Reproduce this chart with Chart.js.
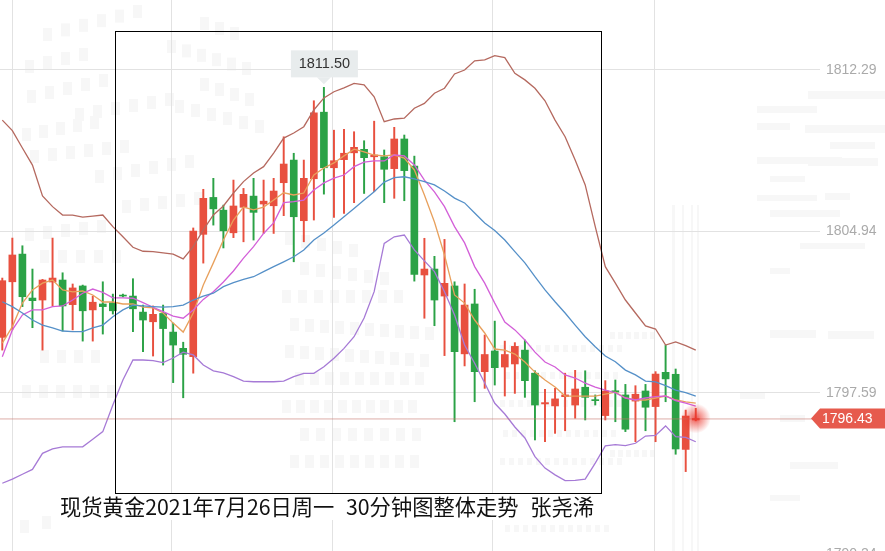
<!DOCTYPE html>
<html lang="zh">
<head>
<meta charset="utf-8">
<title>现货黄金 30分钟图</title>
<script src="https://cdn.jsdelivr.net/npm/chart.js@4/dist/chart.umd.min.js"></script>
<style>
    html, body { margin: 0; width: 885px; height: 551px; overflow: hidden; background: #fff; }
    #chart { position: absolute; left: 0; top: 0; }
    #box { position: absolute; left: 115px; top: 31px; width: 485px; height: 461px; border: 1px solid #000; }
    #caption {
        position: absolute; left: 60px; top: 493px; height: 27px; padding-right: 2px;
        background: #fff; color: #111; white-space: pre; word-spacing: 1px;
        font: 21.3px/26px "Noto Sans CJK SC", sans-serif;
    }
</style>
</head>
<body>
<canvas id="chart" width="885" height="600"></canvas>
<div id="caption">现货黄金2021年7月26日周一  30分钟图整体走势  张尧浠</div>
<div id="box"></div>
<script>
// ─── Candles ──────────────────────────────────────────────────────────────────
const opens = [
    1800.12, 1802.65, 1803.91, 1801.91, 1801.82, 1802.64, 1802.73, 1801.61, 1802.46, 1801.37,
    1801.64, 1801.70, 1802.03, 1802.00, 1801.27, 1800.83, 1801.21, 1800.36, 1799.62, 1799.24,
    1804.81, 1806.49, 1805.91, 1804.88, 1806.04, 1806.55, 1806.19, 1806.11, 1807.16, 1808.19,
    1805.43, 1807.34, 1810.37, 1807.84, 1808.21, 1808.52, 1808.68, 1808.34, 1808.34, 1807.80,
    1809.15, 1807.92, 1802.96, 1803.23, 1802.00, 1802.46, 1799.37, 1801.64, 1798.56, 1799.50,
    1798.77, 1798.91, 1799.54, 1798.49, 1797.09, 1797.00, 1797.42, 1797.04, 1797.85, 1797.27,
    1796.56, 1797.69, 1797.50, 1797.22, 1797.68, 1796.97, 1798.53, 1798.44, 1795.02, 1796.36,
];
const highs = [
    1802.82, 1804.64, 1804.29, 1803.23, 1802.76, 1804.64, 1803.06, 1802.55, 1802.50, 1802.00,
    1802.65, 1802.09, 1802.09, 1802.79, 1801.59, 1801.55, 1801.59, 1800.77, 1799.90, 1805.10,
    1806.86, 1807.36, 1806.14, 1807.28, 1806.90, 1807.36, 1807.28, 1807.36, 1809.25, 1808.50,
    1808.19, 1810.89, 1811.50, 1809.55, 1809.59, 1809.48, 1809.07, 1809.96, 1808.65, 1809.68,
    1809.33, 1808.37, 1804.63, 1803.81, 1804.58, 1802.65, 1802.55, 1802.31, 1800.23, 1800.86,
    1799.95, 1799.88, 1800.00, 1798.60, 1797.76, 1797.80, 1798.49, 1798.62, 1798.60, 1797.50,
    1798.15, 1798.18, 1797.98, 1797.92, 1797.98, 1798.56, 1799.77, 1798.68, 1796.81, 1796.89,
];
const lows = [
    1799.54, 1800.46, 1801.52, 1800.56, 1799.54, 1801.55, 1800.41, 1800.46, 1799.95, 1799.95,
    1800.27, 1801.18, 1801.96, 1800.38, 1799.47, 1799.27, 1798.86, 1798.06, 1797.37, 1798.49,
    1803.50, 1805.23, 1804.19, 1804.66, 1804.47, 1804.55, 1804.85, 1804.85, 1805.66, 1803.56,
    1804.47, 1805.46, 1806.64, 1805.58, 1805.76, 1806.25, 1806.67, 1806.75, 1806.25, 1806.45,
    1806.34, 1802.68, 1800.99, 1800.65, 1799.29, 1796.28, 1798.82, 1797.19, 1797.80, 1797.95,
    1797.45, 1797.57, 1797.39, 1795.45, 1795.37, 1795.75, 1795.87, 1796.44, 1796.36, 1797.04,
    1796.36, 1796.28, 1795.83, 1795.37, 1795.87, 1795.37, 1797.19, 1794.80, 1794.01, 1796.32,
];
const closes = [
    1802.70, 1803.87, 1801.97, 1801.79, 1802.73, 1802.82, 1801.55, 1802.37, 1801.33, 1801.72,
    1801.52, 1801.33, 1802.00, 1801.42, 1800.91, 1801.17, 1800.52, 1799.77, 1799.35, 1804.96,
    1806.45, 1805.97, 1804.97, 1806.10, 1806.63, 1805.81, 1806.32, 1806.78, 1808.01, 1805.61,
    1807.36, 1810.34, 1807.84, 1808.16, 1808.50, 1808.77, 1808.30, 1808.42, 1807.77, 1809.15,
    1807.71, 1802.99, 1803.23, 1801.82, 1802.58, 1799.47, 1801.59, 1798.56, 1799.34, 1798.74,
    1799.34, 1799.71, 1798.15, 1797.04, 1797.15, 1797.32, 1797.50, 1797.77, 1797.39, 1797.24,
    1797.68, 1797.63, 1795.94, 1797.53, 1796.94, 1798.45, 1798.23, 1795.04, 1796.54, 1796.43,
];

// ─── Moving averages and Bollinger bands ──────────────────────────────────────
const ma5 = [
    1799.86, 1800.61, 1801.68, 1802.28, 1802.59, 1802.73, 1802.28, 1802.19, 1802.23, 1802.05,
    1801.73, 1801.73, 1801.64, 1801.64, 1801.50, 1801.46, 1801.23, 1800.77, 1800.36, 1801.23,
    1802.50, 1803.51, 1804.55, 1805.46, 1806.05, 1805.92, 1806.05, 1806.37, 1806.70, 1806.60,
    1806.69, 1807.51, 1807.83, 1808.06, 1808.38, 1808.69, 1808.56, 1808.42, 1808.38, 1808.42,
    1808.28, 1807.74, 1806.60, 1805.37, 1803.87, 1802.05, 1801.68, 1800.91, 1800.32, 1799.59,
    1799.54, 1799.36, 1799.00, 1798.54, 1798.18, 1797.86, 1797.45, 1797.45, 1797.45, 1797.45,
    1797.54, 1797.63, 1797.36, 1797.27, 1797.27, 1797.36, 1797.45, 1797.27, 1797.18, 1797.13,
];
const ma10 = [
    1799.24, 1800.46, 1801.14, 1801.37, 1801.37, 1801.52, 1801.55, 1801.82, 1802.13, 1802.32,
    1802.17, 1801.92, 1801.92, 1801.90, 1801.70, 1801.49, 1801.29, 1801.09, 1800.99, 1801.37,
    1801.85, 1802.20, 1802.64, 1803.14, 1803.73, 1804.25, 1804.85, 1805.33, 1806.25, 1806.30,
    1806.37, 1806.83, 1807.15, 1807.37, 1807.51, 1807.89, 1808.10, 1808.15, 1808.15, 1808.42,
    1808.38, 1807.97, 1807.28, 1806.74, 1806.07, 1805.16, 1804.42, 1803.34, 1802.59, 1801.68,
    1800.82, 1800.46, 1800.00, 1799.45, 1799.00, 1798.77, 1798.41, 1798.27, 1798.04, 1797.86,
    1797.72, 1797.60, 1797.36, 1797.27, 1797.36, 1797.42, 1797.45, 1797.24, 1797.13, 1796.99,
];
const ma30 = [
    1801.74, 1801.52, 1801.23, 1800.91, 1800.68, 1800.55, 1800.41, 1800.38, 1800.38, 1800.55,
    1800.68, 1801.06, 1801.37, 1801.59, 1801.55, 1801.52, 1801.50, 1801.52, 1801.59, 1801.82,
    1802.00, 1802.13, 1802.43, 1802.61, 1802.76, 1802.88, 1803.11, 1803.34, 1803.56, 1803.79,
    1804.10, 1804.55, 1804.87, 1805.23, 1805.61, 1805.99, 1806.37, 1806.75, 1807.19, 1807.39,
    1807.43, 1807.33, 1807.21, 1807.06, 1806.78, 1806.46, 1806.24, 1805.78, 1805.33, 1804.98,
    1804.55, 1804.02, 1803.51, 1802.88, 1802.28, 1801.74, 1801.23, 1800.68, 1800.15, 1799.69,
    1799.27, 1799.01, 1798.63, 1798.41, 1798.13, 1798.09, 1797.92, 1797.72, 1797.60, 1797.45,
];
const bollUpper = [
    1810.01, 1809.53, 1808.74, 1807.96, 1806.56, 1806.07, 1805.69, 1805.68, 1805.59, 1805.64,
    1805.69, 1805.16, 1804.70, 1804.22, 1804.04, 1804.02, 1803.97, 1803.91, 1803.69, 1804.25,
    1805.01, 1805.69, 1806.10, 1806.69, 1807.21, 1807.60, 1807.89, 1808.51, 1809.19, 1809.42,
    1809.71, 1810.47, 1811.02, 1811.30, 1811.48, 1811.68, 1811.61, 1811.07, 1809.94, 1810.06,
    1810.10, 1810.55, 1810.77, 1811.23, 1811.46, 1812.11, 1812.29, 1812.71, 1812.75, 1812.94,
    1812.85, 1812.14, 1811.84, 1811.46, 1810.89, 1810.01, 1809.25, 1808.19, 1807.06, 1805.16,
    1803.34, 1802.59, 1801.82, 1801.23, 1800.64, 1800.50, 1799.77, 1799.91, 1799.74, 1799.54,
];
const bollLower = [
    1793.48, 1793.67, 1793.89, 1794.11, 1794.84, 1795.04, 1795.14, 1795.14, 1795.14, 1795.48,
    1795.83, 1797.04, 1798.18, 1799.09, 1799.09, 1799.06, 1798.97, 1799.18, 1799.45, 1799.32,
    1798.86, 1798.60, 1798.50, 1798.33, 1798.13, 1798.10, 1798.10, 1798.10, 1798.13, 1798.33,
    1798.48, 1798.48, 1798.78, 1799.17, 1799.62, 1800.15, 1801.00, 1802.20, 1804.40, 1804.70,
    1804.78, 1804.10, 1803.60, 1803.11, 1802.20, 1801.14, 1799.77, 1798.94, 1798.04, 1797.12,
    1796.63, 1796.04, 1795.54, 1794.69, 1794.17, 1793.86, 1793.60, 1793.61, 1793.67, 1794.40,
    1795.18, 1795.24, 1795.19, 1795.30, 1795.63, 1795.66, 1796.09, 1795.60, 1795.57, 1795.37,
];

// ─── Axis ticks and labels ────────────────────────────────────────────────────
const priceTicks = [1812.29, 1804.94, 1797.59, 1790.24];
const timeGridTicks = [0.97, 16.88, 32.9, 48.8, 64.85];
const lastPrice = 1796.43;
const peakIndex = 32;

const RED = '#e8503f';
const GREEN = '#2ba246';

// Faint watermark behind the chart: slanted tile rows [x, y, count, dx, dy]
const tileRows = [
    [43, 28, 6, 18, -4.6], [25, 60, 4, 18, -4], [27, 90, 5, 18, -4], [75, 108, 6, 18, -3],
    [167, 40, 6, 15, 4.4], [200, 17, 3, 15, 5], [200, 78, 4, 15, 5], [175, 100, 6, 16, 4],
    [22, 128, 5, 17, -3], [30, 150, 6, 18, -2], [95, 170, 6, 18, -3], [122, 200, 5, 18, -2],
    [25, 228, 5, 18, -2], [40, 250, 5, 18, 0], [40, 350, 4, 17, 0], [22, 385, 6, 17, 0],
    [20, 520, 2, 22, -4], [285, 232, 5, 16, 3], [300, 262, 6, 16, 2], [282, 290, 8, 16, 0],
    [290, 318, 10, 15, 1], [285, 345, 10, 15, 1], [295, 372, 9, 15, 0], [282, 400, 10, 14, 0],
    [300, 428, 8, 16, 0], [290, 455, 9, 15, 0],
];
// Smaller dots in the lower middle [x, y, count, dx, dy]
const dotRows = [
    [500, 345, 14, 9, 0], [505, 372, 13, 9, 0], [500, 400, 14, 9, 0], [503, 430, 13, 9, 0],
    [500, 458, 14, 9, 0], [505, 525, 12, 9, 0], [610, 332, 6, 8, 0], [610, 450, 6, 8, 0],
];
// Pale bars of the right hand watermark [x, y, width, height]
const wmBars = [
    [808, 91, 77, 8], [757, 106, 60, 7], [757, 123, 33, 7], [805, 125, 80, 8], [830, 142, 45, 7],
    [757, 157, 85, 7], [808, 158, 70, 8], [770, 176, 35, 6], [757, 195, 60, 6], [825, 193, 25, 7],
    [770, 210, 70, 7], [800, 243, 65, 6], [770, 268, 20, 6], [770, 330, 46, 8], [828, 331, 46, 8],
    [780, 415, 25, 7], [740, 392, 25, 7], [790, 462, 48, 7], [770, 495, 30, 6],
    [672, 205, 3, 346], [682, 205, 2, 346], [691, 205, 2, 346], [697, 205, 2, 346],
];

function xy(values) {
    return values.map((v, i) => ({ x: i, y: v }));
}

const candleColors = closes.map((c, i) => (c >= opens[i] ? RED : GREEN));

function lineSet(values, color) {
    return {
        type: 'line', data: xy(values), borderColor: color, borderWidth: 1.3,
        pointRadius: 0, tension: 0, order: 0,
    };
}

// ─── Watermark, last price tag, peak label ────────────────────────────────────
const overlay = {
    id: 'overlay',
    beforeDraw(chart) {
        const ctx = chart.ctx;
        ctx.save();
        ctx.fillStyle = '#fff';
        ctx.fillRect(0, 0, chart.width, chart.height);
        ctx.fillStyle = '#f7f7f7';
        for (const [x, y, count, dx, dy] of tileRows) {
            for (let i = 0; i < count; i++) ctx.fillRect(x + i * dx, y + i * dy, 9, 13);
        }
        for (const [x, y, count, dx, dy] of dotRows) {
            for (let i = 0; i < count; i++) ctx.fillRect(x + i * dx, y + i * dy, 5, 7);
        }
        for (const [x, y, w, h] of wmBars) ctx.fillRect(x, y, w, h);
        ctx.restore();
    },
    afterDraw(chart) {
        const ctx = chart.ctx;
        const xScale = chart.scales.x;
        const yScale = chart.scales.y;
        const yLast = yScale.getPixelForValue(lastPrice);
        const xLast = xScale.getPixelForValue(closes.length - 1);
        ctx.save();

        // last price line + tag
        ctx.strokeStyle = 'rgba(200,120,110,0.6)';
        ctx.lineWidth = 1;
        ctx.beginPath();
        ctx.moveTo(0, yLast + 0.5);
        ctx.lineTo(815, yLast + 0.5);
        ctx.stroke();
        ctx.fillStyle = '#e65a4d';
        ctx.beginPath();
        ctx.moveTo(811, yLast);
        ctx.lineTo(820, yLast - 10);
        ctx.lineTo(885, yLast - 10);
        ctx.lineTo(885, yLast + 10);
        ctx.lineTo(820, yLast + 10);
        ctx.closePath();
        ctx.fill();
        ctx.fillStyle = '#fff';
        ctx.font = '14px "Liberation Sans", Arial, sans-serif';
        ctx.textAlign = 'left';
        ctx.textBaseline = 'middle';
        ctx.fillText(lastPrice.toFixed(2), 822, yLast + 0.5);

        // pulse on the last candle
        const glow = ctx.createRadialGradient(xLast, yLast, 1, xLast, yLast, 15);
        glow.addColorStop(0, 'rgba(235,50,40,0.75)');
        glow.addColorStop(1, 'rgba(235,50,40,0)');
        ctx.fillStyle = glow;
        ctx.beginPath();
        ctx.arc(xLast, yLast, 15, 0, Math.PI * 2);
        ctx.fill();

        // peak label
        const px = xScale.getPixelForValue(peakIndex);
        const py = yScale.getPixelForValue(highs[peakIndex]);
        ctx.fillStyle = '#e8eced';
        ctx.fillRect(px - 33, py - 37, 67, 27);
        ctx.beginPath();
        ctx.moveTo(px - 7, py - 10);
        ctx.lineTo(px + 7, py - 10);
        ctx.lineTo(px, py - 3);
        ctx.closePath();
        ctx.fill();
        ctx.fillStyle = '#333';
        ctx.font = '14.5px "Liberation Sans", Arial, sans-serif';
        ctx.textAlign = 'center';
        ctx.fillText(highs[peakIndex].toFixed(2), px + 0.5, py - 23);
        ctx.restore();
    },
};

// ─── Chart ────────────────────────────────────────────────────────────────────
new Chart(document.getElementById('chart'), {
    type: 'bar',
    data: {
        datasets: [
            lineSet(bollUpper, '#b5695f'),
            lineSet(bollLower, '#a67ad6'),
            lineSet(ma30, '#5590c8'),
            lineSet(ma10, '#d35fd8'),
            lineSet(ma5, '#e8a05c'),
            {
                data: opens.map((o, i) => ({ x: i, y: [o, closes[i]] })),
                backgroundColor: candleColors, barThickness: 7, minBarLength: 1, grouped: false, order: 1,
            },
            {
                data: lows.map((l, i) => ({ x: i, y: [l, highs[i]] })),
                backgroundColor: candleColors, barThickness: 1.3, grouped: false, order: 2,
            },
        ],
    },
    options: {
        responsive: false,
        animation: false,
        events: [],
        layout: { padding: 0 },
        plugins: { legend: { display: false }, tooltip: { enabled: false } },
        scales: {
            x: {
                type: 'linear',
                offset: false,
                min: -0.229,
                max: 81.363,
                border: { display: false },
                grid: { color: '#e2e2e2', lineWidth: 1, drawTicks: false, offset: false },
                ticks: { display: false },
                afterBuildTicks(scale) { scale.ticks = timeGridTicks.map(v => ({ value: v })); },
                afterFit(scale) { scale.height = 0; scale.paddingLeft = 0; scale.paddingRight = 0; },
            },
            y: {
                position: 'right',
                min: 1788.166,
                max: 1815.476,
                border: { display: false },
                grid: { color: '#e2e2e2', lineWidth: 1, drawTicks: false },
                ticks: {
                    color: '#aaaaaa',
                    padding: 6,
                    font: { family: '"Liberation Sans", Arial, sans-serif', size: 14 },
                    callback: v => v.toFixed(2),
                },
                afterBuildTicks(scale) { scale.ticks = priceTicks.map(v => ({ value: v })); },
                afterFit(scale) { scale.width = 65; scale.paddingTop = 0; scale.paddingBottom = 0; },
            },
        },
    },
    plugins: [overlay],
});
</script>
</body>
</html>
